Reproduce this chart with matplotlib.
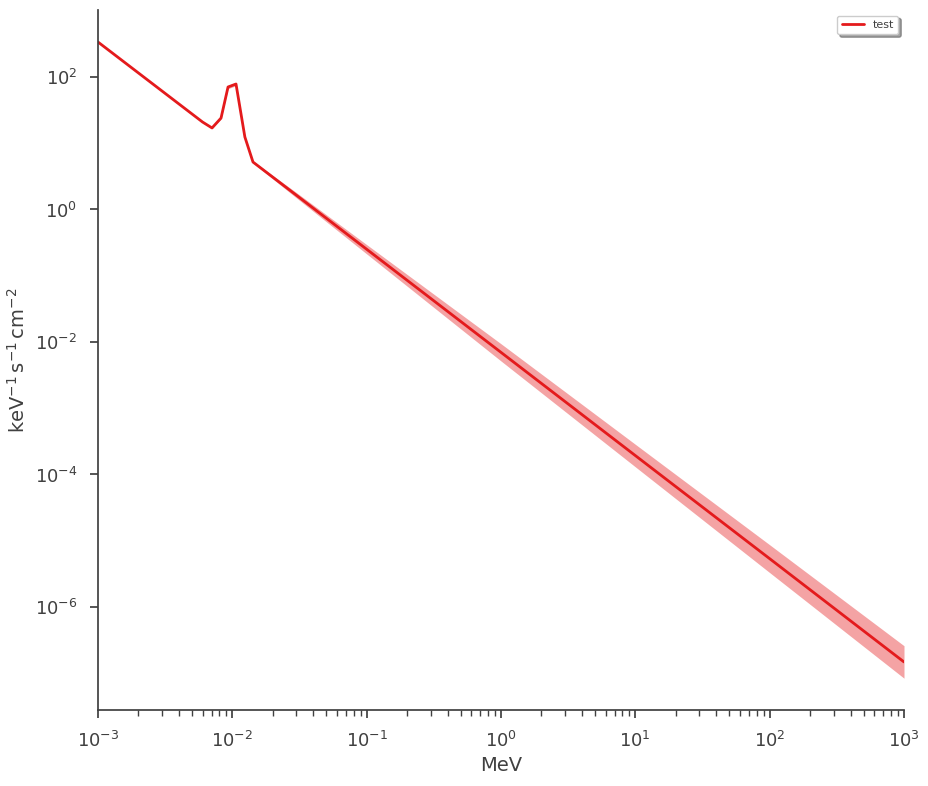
import numpy as np
import matplotlib
matplotlib.use("Agg")
import matplotlib.pyplot as plt
import matplotlib.ticker as mticker
import seaborn as sns

# Energies (MeV) of the curve's vertices
energy = [1.0e-3, 6.0e-3, 7.06e-3, 8.24e-3, 9.29e-3, 1.065e-2, 1.24e-2, 1.425e-2,
          3.0e-2, 1.0e-1, 1.0, 10.0, 100.0, 1000.0]
# Flux (keV^-1 s^-1 cm^-2)
flux = [337.0, 20.9, 17.0, 24.0, 70.6, 78.3, 12.4, 5.2,
        1.64, 0.251, 6.97e-3, 1.93e-4, 5.36e-6, 1.48e-7]
# Half width of the shaded band, in decades
band_dex = [0.005, 0.008, 0.01, 0.015, 0.025, 0.025, 0.015, 0.015,
            0.04, 0.07, 0.13, 0.17, 0.21, 0.245]

yticks = [1e-6, 1e-4, 1e-2, 1e0, 1e2]

sns.set_theme(style="ticks", context="notebook", font_scale=1.17)
grey = "#404040"
plt.rcParams.update({"text.color": grey, "axes.labelcolor": grey,
                     "xtick.color": grey, "ytick.color": grey,
                     "axes.edgecolor": grey,
                     "xtick.major.pad": 9, "ytick.major.pad": 9,
                     "xtick.minor.pad": 9})

fig = plt.figure(figsize=(9.29, 7.86), dpi=100)
ax = fig.add_axes([98 / 929, 76 / 786, 806 / 929, 700 / 786])

e = np.array(energy)
f = np.array(flux)
d = np.array(band_dex)
lower = f / 10 ** d
upper = f * 10 ** d

red = "#e41a1c"
ax.fill_between(e, lower, upper, color=red, alpha=0.4, lw=0)
ax.plot(e, f, color=red, lw=2, label="test")

ax.set_xscale("log")
ax.set_yscale("log")
ax.set_xlim(1e-3, 1e3)
ax.set_ylim(10 ** -7.555, 10 ** 3.011)
ax.set_yticks(yticks)
ax.yaxis.set_minor_locator(mticker.NullLocator())
ax.xaxis.set_major_locator(mticker.LogLocator(base=10, numticks=10))
ax.xaxis.set_minor_locator(mticker.LogLocator(base=10, subs=np.arange(2, 10), numticks=20))

ax.set_xlabel("MeV")
ax.set_ylabel(r"keV$^{-1}\,$s$^{-1}\,$cm$^{-2}$")

sns.despine(ax=ax)

leg = ax.legend(loc="upper right", fontsize=8, frameon=True, shadow=True, fancybox=True)

fig.savefig("out.png", dpi=100)
